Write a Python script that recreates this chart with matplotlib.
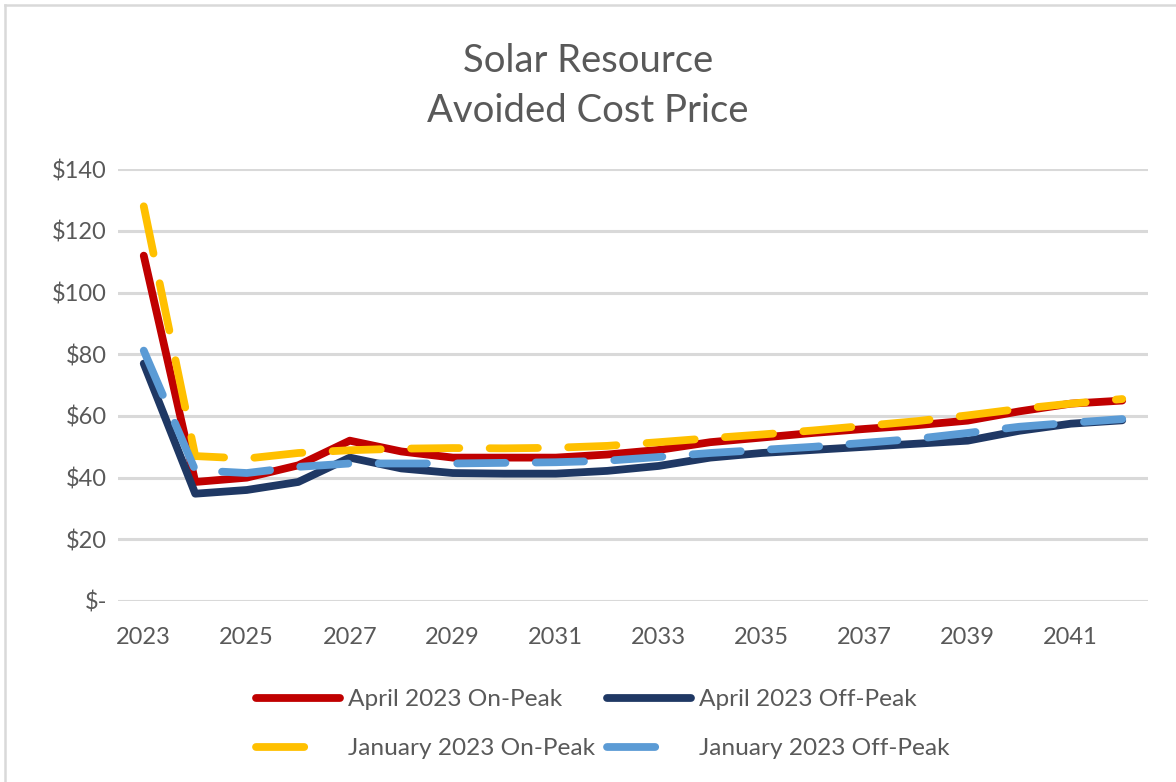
import matplotlib
matplotlib.use("Agg")
import matplotlib.pyplot as plt
from matplotlib.lines import Line2D

years = list(range(2023, 2043))
april_on = [112, 38.6, 40, 44, 52, 48.5, 46.5, 46.5, 46.5, 47.5, 49, 51.5, 53, 54.5, 55.8, 57, 58.5, 61.5, 64, 65]
april_off = [77, 34.8, 36, 38.6, 46.5, 43, 41.5, 41.3, 41.3, 42.2, 43.8, 46.5, 48, 49, 50, 51, 52, 55.2, 57.5, 58.6]
jan_on = [128, 47, 46.2, 48, 48.9, 49.4, 49.6, 49.5, 49.7, 50.3, 51.5, 52.8, 54, 55.3, 56.8, 58.3, 60.2, 62.3, 64, 65.5]
jan_off = [81.2, 42.4, 41.5, 43.5, 44.6, 44.6, 44.6, 44.8, 45, 45.5, 46.7, 48, 49, 50, 51.3, 52.6, 54.5, 56.5, 57.8, 59]

series_labels = ["April 2023 On-Peak", "April 2023 Off-Peak", "January 2023 On-Peak", "January 2023 Off-Peak"]
x_ticks = [2023, 2025, 2027, 2029, 2031, 2033, 2035, 2037, 2039, 2041]
y_ticks = [0, 20, 40, 60, 80, 100, 120, 140]
y_tick_labels = ["$-", "$20", "$40", "$60", "$80", "$100", "$120", "$140"]

FONT = "Lato"
TXT = "#595959"
plt.rcParams["font.family"] = [FONT, "DejaVu Sans"]

colors = ["#C00000", "#1F3864", "#FFC000", "#5B9BD5"]

fig = plt.figure(figsize=(11.76, 7.82), dpi=100)
ax = fig.add_axes([118/1176, 1-601/782, (1148-118)/1176, (601-169.3)/782])

lw = 5.6
dash = (0, (6.2, 3.9))
ax.plot(years, april_on, color=colors[0], lw=lw, solid_capstyle="round", solid_joinstyle="round", label=series_labels[0], zorder=3)
ax.plot(years, april_off, color=colors[1], lw=lw, solid_capstyle="round", solid_joinstyle="round", label=series_labels[1], zorder=3)
ax.plot(years, jan_on, color=colors[2], lw=lw, linestyle=dash, dash_capstyle="round", dash_joinstyle="round", label=series_labels[2], zorder=4)
ax.plot(years, jan_off, color=colors[3], lw=lw, linestyle=dash, dash_capstyle="round", dash_joinstyle="round", label=series_labels[3], zorder=4)

ax.set_xlim(2022.5, 2042.5)
ax.set_ylim(0, 140)
ax.set_xticks(x_ticks)
ax.set_xticklabels([str(y) for y in x_ticks])
ax.set_yticks(y_ticks)
ax.set_yticklabels(y_tick_labels)
ax.tick_params(axis="both", length=0, labelsize=17, colors=TXT)
ax.tick_params(axis="x", pad=19)
ax.tick_params(axis="y", pad=8)
ax.grid(axis="y", color="#D9D9D9", lw=2.2)
ax.set_axisbelow(True)
for s in ax.spines.values():
    s.set_visible(False)

fig.text(0.5, 1-72/782, "Solar Resource", ha="center", va="baseline", fontsize=27.5, color=TXT)
fig.text(0.5, 1-122/782, "Avoided Cost Price", ha="center", va="baseline", fontsize=27.5, color=TXT)

# legend handles: dashed entries show a single dash like the reference
h_on = Line2D([], [], color=colors[0], lw=lw, solid_capstyle="round")
h_off = Line2D([], [], color=colors[1], lw=lw, solid_capstyle="round")
h_jon = Line2D([], [], color=colors[2], lw=lw, linestyle=(0, (6.2, 20)), dash_capstyle="round")
h_joff = Line2D([], [], color=colors[3], lw=lw, linestyle=(0, (6.2, 20)), dash_capstyle="round")

leg = fig.legend([h_on, h_jon, h_off, h_joff],
                 [series_labels[0], series_labels[2], series_labels[1], series_labels[3]],
                 loc="upper left", bbox_to_anchor=(256/1176, 1-689/782), ncol=2, frameon=False,
                 fontsize=17.6, handlelength=3.45, handletextpad=0.3, columnspacing=0.5,
                 labelspacing=1.15, borderpad=0, borderaxespad=0)
for t in leg.get_texts():
    t.set_color(TXT)

# chart border (top and left visible)
fig.add_artist(Line2D([5/1176, 5/1176], [0, 1-5/782], transform=fig.transFigure, color="#D9D9D9", lw=1.8))
fig.add_artist(Line2D([5/1176, 1], [1-5/782, 1-5/782], transform=fig.transFigure, color="#D9D9D9", lw=1.8))

fig.savefig("out.png", dpi=100)
